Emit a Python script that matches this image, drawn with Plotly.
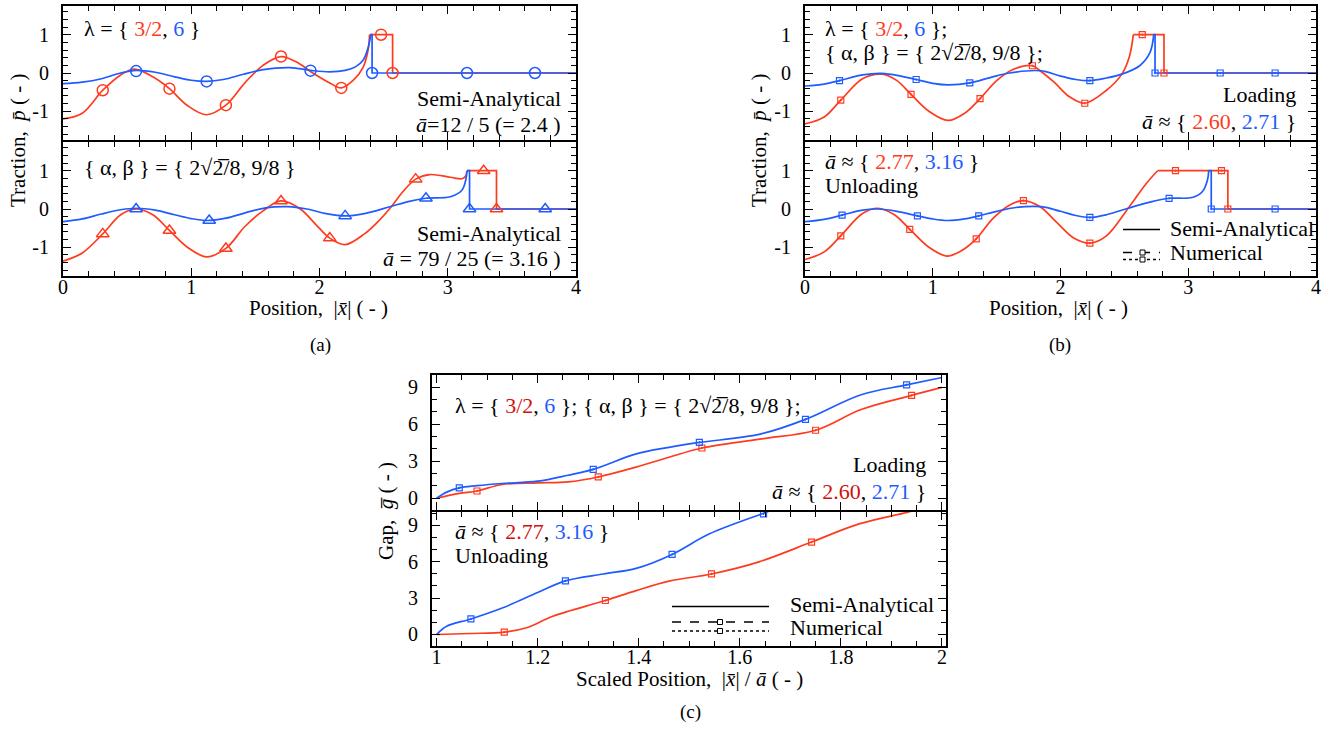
import plotly.graph_objects as go

RED = "#ff3b1e"
BLUE = "#1f5cff"
DRED = "#d01010"
FONT = "Liberation Serif"

# ---------------- panel (a) top : lambda = {3/2, 6}, a = 2.4
a1_red_x = [0, 0.15, 0.31, 0.45, 0.56, 0.70, 0.83, 0.97, 1.12, 1.27, 1.42, 1.56, 1.70, 1.84, 1.93, 2.08, 2.17, 2.26, 2.34, 2.38, 2.39]
a1_red_y = [-1.2, -1.05, -0.45, -0.05, 0.1, -0.1, -0.41, -0.85, -1.09, -0.84, -0.25, 0.2, 0.43, 0.25, 0.04, -0.26, -0.39, -0.2, 0.15, 0.62, 1.0]
a1_red_step_x = [2.39, 2.57, 2.57, 4.0]
a1_red_step_y = [1, 1, 0, 0]
a1_blue_x = [0, 0.15, 0.30, 0.45, 0.57, 0.72, 0.87, 1.0, 1.12, 1.25, 1.40, 1.55, 1.77, 1.93, 2.08, 2.20, 2.28, 2.34, 2.38, 2.40]
a1_blue_y = [-0.28, -0.24, -0.15, 0.0, 0.07, 0.02, -0.1, -0.19, -0.22, -0.17, -0.04, 0.08, 0.14, 0.07, 0.03, 0.07, 0.16, 0.33, 0.67, 1.0]
a1_blue_step_x = [2.40, 2.41, 2.41, 4.0]
a1_blue_step_y = [1, 1, 0, 0]
a1_red_mk_x = [0.31, 0.83, 1.27, 1.70, 2.17, 2.48, 2.57]
a1_red_mk_y = [-0.45, -0.41, -0.84, 0.43, -0.39, 1.0, 0.0]
a1_blue_mk_x = [0.57, 1.12, 1.93, 2.41, 3.15, 3.68]
a1_blue_mk_y = [0.05, -0.22, 0.06, 0.0, 0.0, 0.0]

# ---------------- panel (a) bottom : {alpha, beta}, a = 3.16
a2_red_x = [0, 0.15, 0.31, 0.45, 0.57, 0.70, 0.83, 0.97, 1.12, 1.27, 1.42, 1.56, 1.70, 1.85, 1.97, 2.08, 2.20, 2.35, 2.45, 2.55, 2.65, 2.75, 2.86, 3.02, 3.11, 3.14, 3.15]
a2_red_y = [-1.36, -1.15, -0.65, -0.15, 0.0, -0.15, -0.56, -1.0, -1.25, -1.03, -0.45, -0.05, 0.21, 0.0, -0.4, -0.76, -0.93, -0.65, -0.35, 0.02, 0.45, 0.78, 0.9, 0.83, 0.79, 0.86, 1.0]
a2_red_step_x = [3.15, 3.38, 3.38, 4.0]
a2_red_step_y = [1, 1, 0, 0]
a2_blue_x = [0, 0.15, 0.30, 0.45, 0.57, 0.72, 0.87, 1.0, 1.13, 1.27, 1.42, 1.58, 1.75, 1.90, 2.05, 2.20, 2.35, 2.55, 2.70, 2.83, 3.02, 3.11, 3.14, 3.15]
a2_blue_y = [-0.33, -0.26, -0.13, -0.02, 0.02, -0.03, -0.15, -0.25, -0.3, -0.24, -0.1, 0.03, 0.06, 0.0, -0.12, -0.18, -0.12, 0.06, 0.2, 0.28, 0.32, 0.49, 0.75, 1.0]
a2_blue_step_x = [3.15, 3.17, 3.17, 4.0]
a2_blue_step_y = [1, 1, 0, 0]
a2_red_mk_x = [0.31, 0.83, 1.27, 1.70, 2.08, 2.75, 3.28, 3.38]
a2_red_mk_y = [-0.65, -0.56, -1.03, 0.21, -0.76, 0.78, 1.0, 0.0]
a2_blue_mk_x = [0.57, 1.14, 2.20, 2.83, 3.17, 3.76]
a2_blue_mk_y = [0.0, -0.3, -0.18, 0.28, 0.0, 0.0]

# ---------------- panel (b) top : loading
b1_red_x = [0, 0.15, 0.28, 0.45, 0.60, 0.72, 0.83, 0.97, 1.12, 1.25, 1.37, 1.50, 1.62, 1.78, 1.84, 1.95, 2.07, 2.19, 2.36, 2.48, 2.54, 2.57]
b1_red_y = [-1.33, -1.15, -0.71, -0.15, -0.03, -0.2, -0.56, -1.0, -1.24, -1.05, -0.67, -0.2, 0.08, 0.19, 0.06, -0.24, -0.62, -0.79, -0.45, -0.03, 0.44, 1.0]
b1_red_step_x = [2.57, 2.81, 2.81, 4.0]
b1_red_step_y = [1, 1, 0, 0]
b1_blue_x = [0, 0.15, 0.27, 0.45, 0.60, 0.75, 0.87, 1.0, 1.12, 1.29, 1.45, 1.60, 1.84, 2.0, 2.12, 2.23, 2.36, 2.48, 2.62, 2.70, 2.73]
b1_blue_y = [-0.34, -0.29, -0.2, -0.05, -0.01, -0.08, -0.17, -0.27, -0.31, -0.26, -0.12, 0.0, 0.06, -0.08, -0.17, -0.2, -0.13, -0.03, 0.19, 0.53, 1.0]
b1_blue_step_x = [2.73, 2.74, 2.74, 4.0]
b1_blue_step_y = [1, 1, 0, 0]
b1_red_mk_x = [0.28, 0.83, 1.37, 1.78, 2.19, 2.64, 2.81]
b1_red_mk_y = [-0.71, -0.56, -0.67, 0.19, -0.79, 1.0, 0.0]
b1_blue_mk_x = [0.27, 0.87, 1.29, 2.23, 2.74, 3.25, 3.68]
b1_blue_mk_y = [-0.2, -0.17, -0.26, -0.2, 0.0, 0.0, 0.0]

# ---------------- panel (b) bottom : unloading
b2_red_x = [0, 0.15, 0.28, 0.45, 0.57, 0.70, 0.82, 0.97, 1.11, 1.22, 1.34, 1.47, 1.60, 1.71, 1.84, 1.97, 2.10, 2.23, 2.36, 2.53, 2.67, 2.76]
b2_red_y = [-1.32, -1.12, -0.7, -0.12, 0.02, -0.15, -0.53, -1.0, -1.23, -1.1, -0.78, -0.25, 0.1, 0.22, 0.06, -0.35, -0.75, -0.89, -0.7, 0.02, 0.66, 1.0]
b2_red_step_x = [2.76, 3.31, 3.31, 4.0]
b2_red_step_y = [1, 1, 0, 0]
b2_blue_x = [0, 0.15, 0.29, 0.45, 0.57, 0.72, 0.88, 1.0, 1.12, 1.25, 1.36, 1.50, 1.65, 1.85, 2.0, 2.12, 2.23, 2.36, 2.53, 2.70, 2.85, 3.03, 3.11, 3.15, 3.16]
b2_blue_y = [-0.33, -0.27, -0.16, -0.03, 0.0, -0.06, -0.18, -0.26, -0.3, -0.26, -0.18, -0.06, 0.04, 0.06, -0.06, -0.17, -0.22, -0.15, 0.02, 0.18, 0.28, 0.3, 0.45, 0.75, 1.0]
b2_blue_step_x = [3.16, 3.18, 3.18, 4.0]
b2_blue_step_y = [1, 1, 0, 0]
b2_red_mk_x = [0.28, 0.82, 1.34, 1.71, 2.23, 2.90, 3.26, 3.31]
b2_red_mk_y = [-0.7, -0.53, -0.78, 0.22, -0.89, 1.0, 1.0, 0.0]
b2_blue_mk_x = [0.29, 0.88, 1.36, 2.23, 2.85, 3.18, 3.68]
b2_blue_mk_y = [-0.16, -0.18, -0.18, -0.22, 0.28, 0.0, 0.0]

# ---------------- panel (c) top : gap, loading
c1_blue_x = [1.0, 1.02, 1.045, 1.08, 1.13, 1.20, 1.26, 1.31, 1.395, 1.46, 1.52, 1.64, 1.73, 1.84, 1.93, 2.0]
c1_blue_y = [0, 0.5, 0.85, 1.02, 1.2, 1.39, 1.87, 2.35, 3.6, 4.13, 4.53, 5.2, 6.4, 8.4, 9.2, 9.8]
c1_red_x = [1.0, 1.045, 1.08, 1.13, 1.20, 1.26, 1.32, 1.395, 1.46, 1.525, 1.64, 1.75, 1.84, 1.94, 2.0]
c1_red_y = [0, 0.4, 0.59, 1.12, 1.25, 1.33, 1.73, 2.53, 3.33, 4.08, 4.8, 5.52, 7.2, 8.35, 9.0]
c1_blue_mk_x = [1.045, 1.31, 1.52, 1.73, 1.93]
c1_blue_mk_y = [0.85, 2.35, 4.53, 6.4, 9.2]
c1_red_mk_x = [1.08, 1.32, 1.525, 1.75, 1.94]
c1_red_mk_y = [0.59, 1.73, 4.08, 5.52, 8.35]

# ---------------- panel (c) bottom : gap, unloading
c2_blue_x = [1.0, 1.02, 1.068, 1.13, 1.20, 1.255, 1.33, 1.395, 1.466, 1.54, 1.647, 1.70]
c2_blue_y = [0, 0.68, 1.28, 2.18, 3.46, 4.42, 4.99, 5.45, 6.6, 8.3, 10.0, 10.8]
c2_red_x = [1.0, 1.066, 1.134, 1.178, 1.23, 1.334, 1.395, 1.46, 1.544, 1.638, 1.742, 1.836, 1.931, 1.96]
c2_red_y = [0, 0.08, 0.19, 0.55, 1.5, 2.8, 3.62, 4.4, 4.99, 5.99, 7.62, 9.12, 10.07, 10.4]
c2_blue_mk_x = [1.068, 1.255, 1.466, 1.647]
c2_blue_mk_y = [1.28, 4.42, 6.6, 9.95]
c2_red_mk_x = [1.134, 1.334, 1.544, 1.742]
c2_red_mk_y = [0.19, 2.8, 4.99, 7.62]

# tick labels
tp_vals = [-1, 0, 1]
tp_text = ["-1", "0", "1"]
xpos_vals = [0, 1, 2, 3, 4]
xpos_text = ["0", "1", "2", "3", "4"]
gap_vals = [0, 3, 6, 9]
gap_text = ["0", "3", "6", "9"]
xs_vals = [1.0, 1.2, 1.4, 1.6, 1.8, 2.0]
xs_text = ["1", "1.2", "1.4", "1.6", "1.8", "2"]

W, H = 1340, 733
def PX(x): return x / W
def PY(y): return 1 - y / H

fig = go.Figure()

def curve(ax, x, y, color, shape="spline"):
    fig.add_trace(go.Scatter(x=x, y=y, mode="lines", xaxis="x" + ax, yaxis="y" + ax,
                             line=dict(color=color, width=1.7, shape=shape, smoothing=1.0),
                             showlegend=False, hoverinfo="skip"))

def marks(ax, x, y, color, symbol, size, lw=1.5):
    fig.add_trace(go.Scatter(x=x, y=y, mode="markers", xaxis="x" + ax, yaxis="y" + ax,
                             marker=dict(symbol=symbol, size=size, color=color,
                                         line=dict(color=color, width=lw)),
                             showlegend=False, hoverinfo="skip", cliponaxis=False))

# (a) top
curve("1", a1_red_x, a1_red_y, RED); curve("1", a1_red_step_x, a1_red_step_y, RED, "linear")
curve("1", a1_blue_x, a1_blue_y, BLUE); curve("1", a1_blue_step_x, a1_blue_step_y, BLUE, "linear")
marks("1", a1_red_mk_x, a1_red_mk_y, RED, "circle-open", 11)
marks("1", a1_blue_mk_x, a1_blue_mk_y, BLUE, "circle-open", 11)
# (a) bottom
curve("2", a2_red_x, a2_red_y, RED); curve("2", a2_red_step_x, a2_red_step_y, RED, "linear")
curve("2", a2_blue_x, a2_blue_y, BLUE); curve("2", a2_blue_step_x, a2_blue_step_y, BLUE, "linear")
marks("2", a2_red_mk_x, a2_red_mk_y, RED, "triangle-up-open", 11)
marks("2", a2_blue_mk_x, a2_blue_mk_y, BLUE, "triangle-up-open", 11)
# (b) top
curve("3", b1_red_x, b1_red_y, RED); curve("3", b1_red_step_x, b1_red_step_y, RED, "linear")
curve("3", b1_blue_x, b1_blue_y, BLUE); curve("3", b1_blue_step_x, b1_blue_step_y, BLUE, "linear")
marks("3", b1_red_mk_x, b1_red_mk_y, RED, "square-open-dot", 6, 1.2)
marks("3", b1_blue_mk_x, b1_blue_mk_y, BLUE, "square-open-dot", 6, 1.2)
# (b) bottom
curve("4", b2_red_x, b2_red_y, RED); curve("4", b2_red_step_x, b2_red_step_y, RED, "linear")
curve("4", b2_blue_x, b2_blue_y, BLUE); curve("4", b2_blue_step_x, b2_blue_step_y, BLUE, "linear")
marks("4", b2_red_mk_x, b2_red_mk_y, RED, "square-open-dot", 6, 1.2)
marks("4", b2_blue_mk_x, b2_blue_mk_y, BLUE, "square-open-dot", 6, 1.2)
# (c) top
curve("5", c1_red_x, c1_red_y, RED); curve("5", c1_blue_x, c1_blue_y, BLUE)
marks("5", c1_red_mk_x, c1_red_mk_y, RED, "square-open-dot", 6, 1.2)
marks("5", c1_blue_mk_x, c1_blue_mk_y, BLUE, "square-open-dot", 6, 1.2)
# (c) bottom
curve("6", c2_red_x, c2_red_y, RED); curve("6", c2_blue_x, c2_blue_y, BLUE)
marks("6", c2_red_mk_x, c2_red_mk_y, RED, "square-open-dot", 6, 1.2)
marks("6", c2_blue_mk_x, c2_blue_mk_y, BLUE, "square-open-dot", 6, 1.2)

# axis lines are drawn just outside the plot area, so the two halves of each
# panel leave a 2 px gap in which both frame lines fall on the same pixels
dom_top = [PY(140), PY(6)]
dom_bot = [PY(276), PY(142)]
dom_ct = [PY(510), PY(375)]
dom_cb = [PY(646), PY(512)]
dx_a = [PX(63), PX(576)]
dx_b = [PX(805), PX(1316)]
dx_c = [PX(432), PX(946)]

common = dict(showline=True, linewidth=2, linecolor="black", mirror="ticks",
              ticks="inside", ticklen=8, tickwidth=1.3, tickcolor="black",
              showgrid=False, zeroline=False, automargin=False,
              tickfont=dict(family=FONT, size=20, color="black"),
              tickmode="array")

def xax(n, dom, anchor, rng, vals, text, minor_dt, labels):
    d = dict(common)
    d.update(domain=dom, anchor="y" + anchor, range=rng, tickvals=vals, ticktext=text,
             showticklabels=labels, ticklabelstandoff=-8,
             minor=dict(ticks="inside", ticklen=5, tickwidth=1, tickcolor="black",
                        tickmode="linear", tick0=0, dtick=minor_dt, showgrid=False))
    fig.layout["xaxis" + n] = d

def yax(n, dom, anchor, rng, vals, text, minor_dt):
    d = dict(common)
    d.update(domain=dom, anchor="x" + anchor, range=rng, tickvals=vals, ticktext=text,
             ticklabelstandoff=8,
             minor=dict(ticks="inside", ticklen=5, tickwidth=1, tickcolor="black",
                        tickmode="linear", tick0=0, dtick=minor_dt, showgrid=False))
    fig.layout["yaxis" + n] = d

xax("", dx_a, "1", [0, 4], xpos_vals, xpos_text, 0.2, False)
xax("2", dx_a, "2", [0, 4], xpos_vals, xpos_text, 0.2, True)
xax("3", dx_b, "3", [0, 4], xpos_vals, xpos_text, 0.2, False)
xax("4", dx_b, "4", [0, 4], xpos_vals, xpos_text, 0.2, True)
xax("5", dx_c, "5", [0.991, 2.008], xs_vals, xs_text, 0.05, False)
xax("6", dx_c, "6", [0.991, 2.008], xs_vals, xs_text, 0.05, True)
yax("", dom_top, "1", [-1.75, 1.75], tp_vals, tp_text, 0.2)
yax("2", dom_bot, "2", [-1.75, 1.75], tp_vals, tp_text, 0.2)
yax("3", dom_top, "3", [-1.75, 1.75], tp_vals, tp_text, 0.2)
yax("4", dom_bot, "4", [-1.75, 1.75], tp_vals, tp_text, 0.2)
yax("5", dom_ct, "5", [-0.95, 10.0], gap_vals, gap_text, 1)
yax("6", dom_cb, "6", [-0.95, 10.1], gap_vals, gap_text, 1)

anns = []
def ann(text, x, y, xanchor="left", size=22, angle=0, yanchor="middle"):
    anns.append(dict(text=text, x=PX(x), y=PY(y), xref="paper", yref="paper",
                     xanchor=xanchor, yanchor=yanchor, showarrow=False, textangle=angle,
                     font=dict(family=FONT, size=size, color="black")))

def col(t, c): return "<span style='color:%s'>%s</span>" % (c, t)

AB = "<i>ā</i>"
SQ = "2√2\u0305/8"
# (a)
ann("λ = { %s, %s }" % (col("3/2", RED), col("6", BLUE)), 82, 28)
ann("Semi-Analytical", 563, 99, "right")
ann(AB + "=12 / 5 (= 2.4 )", 563, 124, "right")
ann("{ α, β } = { %s, 9/8 }" % SQ, 82, 168)
ann("Semi-Analytical", 563, 234, "right")
ann(AB + " = 79 / 25 (= 3.16 )", 563, 258, "right")
# (b)
ann("λ = { %s, %s };" % (col("3/2", RED), col("6", BLUE)), 823, 28)
ann("{ α, β } = { %s, 9/8 };" % SQ, 823, 52)
ann("Loading", 1298, 94, "right")
ann(AB + " ≈ { %s, %s }" % (col("2.60", RED), col("2.71", BLUE)), 1298, 121, "right")
ann(AB + " ≈ { %s, %s }" % (col("2.77", RED), col("3.16", BLUE)), 823, 161)
ann("Unloading", 823, 185)
ann("Semi-Analytical", 1168, 229)
ann("Numerical", 1168, 253)
# (c)
ann("λ = { %s, %s }; { α, β } = { %s, 9/8 };" % (col("3/2", DRED), col("6", BLUE), SQ), 453, 405)
ann("Loading", 928, 464, "right")
ann(AB + " ≈ { %s, %s }" % (col("2.60", DRED), col("2.71", BLUE)), 928, 491, "right")
ann(AB + " ≈ { %s, %s }" % (col("2.77", DRED), col("3.16", BLUE)), 453, 531)
ann("Unloading", 453, 555)
ann("Semi-Analytical", 788, 604)
ann("Numerical", 788, 627)
# axis titles
ann("Traction,  <i>p̄</i> ( - )", 18, 141, "center", 21, -90)
ann("Traction,  <i>p̄</i> ( - )", 759, 141, "center", 21, -90)
ann("Gap,  <i>g̅</i> ( - )", 386, 511, "center", 21, -90)
ann("Position,  |<i>x̄</i>| ( - )", 318, 308, "center", 21)
ann("Position,  |<i>x̄</i>| ( - )", 1058, 308, "center", 21)
ann("Scaled Position,  |<i>x̄</i>| / <i>ā</i> ( - )", 689, 679, "center", 21)
ann("(a)", 320, 345, "center", 19)
ann("(b)", 1060, 345, "center", 19)
ann("(c)", 690, 712, "center", 19)

shapes = []
def hline(x0, x1, y, dash="solid"):
    shapes.append(dict(type="line", xref="paper", yref="paper", x0=PX(x0), x1=PX(x1),
                       y0=PY(y), y1=PY(y), line=dict(color="black", width=1.3, dash=dash)))
def sq(x, y, s=2.5):
    shapes.append(dict(type="rect", xref="paper", yref="paper", x0=PX(x - s), x1=PX(x + s),
                       y0=PY(y - s), y1=PY(y + s), line=dict(color="black", width=1),
                       fillcolor="white"))
# legend (b)
hline(1123, 1160, 229.5)
hline(1123, 1160, 252.5, "dash")
hline(1123, 1160, 259.5, "dot")
sq(1142.5, 252.5); sq(1142.5, 259.5)
# legend (c)
hline(672, 769, 606.5)
hline(672, 769, 622, "dash")
hline(672, 769, 631, "dot")
sq(720, 622); sq(720, 631)

fig.update_layout(width=W, height=H, margin=dict(l=0, r=0, t=0, b=0, autoexpand=False), autosize=False,
                  paper_bgcolor="white", plot_bgcolor="white",
                  annotations=anns, shapes=shapes, showlegend=False,
                  font=dict(family=FONT, size=20, color="black"))

fig.write_html("out.html", config={"displayModeBar": False},
               post_script="document.body.style.margin='0px';document.body.style.padding='0px';")
